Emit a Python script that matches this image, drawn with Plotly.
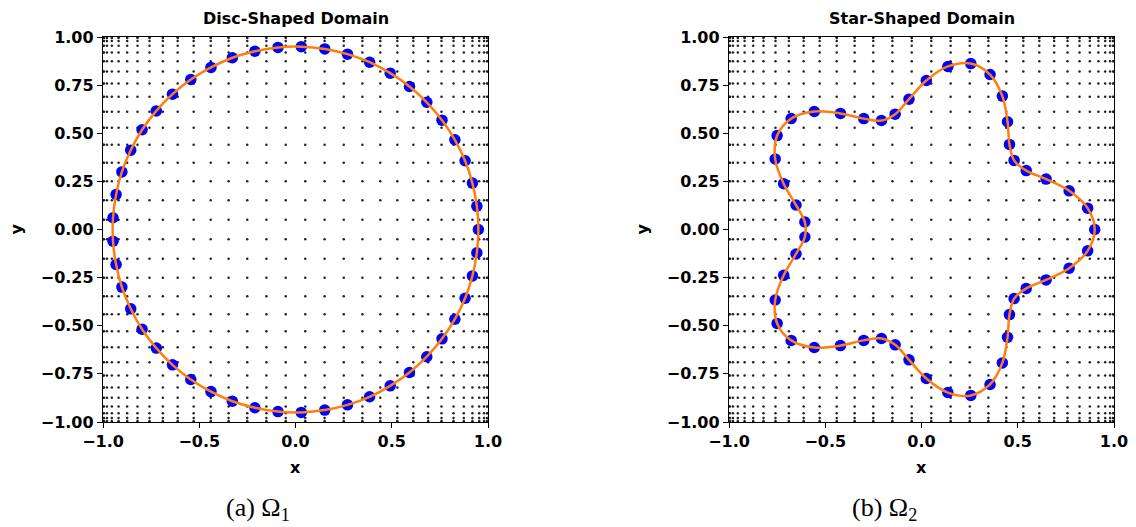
import plotly.graph_objects as go

# ---------------- data ----------------
# collocation grid coordinates (same in x and y, denser near the edges)
GRID = [-1.0, -0.9949, -0.9795, -0.9541, -0.9190, -0.8744, -0.8208, -0.7586,
        -0.6890, -0.6121, -0.5290, -0.4404, -0.3473, -0.2507, -0.1514, -0.0507,
        0.0507, 0.1514, 0.2507, 0.3473, 0.4404, 0.5290, 0.6121, 0.6890,
        0.7586, 0.8208, 0.8744, 0.9190, 0.9541, 0.9795, 0.9949, 1.0]

# boundary points of the disc-shaped domain
DISC_X = [0.950, 0.942, 0.919, 0.881, 0.828, 0.761, 0.682, 0.592, 0.492, 0.385,
          0.270, 0.152, 0.030, -0.091, -0.211, -0.328, -0.439, -0.544, -0.639,
          -0.723, -0.797, -0.856, -0.902, -0.932, -0.948, -0.948, -0.932, -0.902,
          -0.856, -0.797, -0.723, -0.639, -0.544, -0.439, -0.328, -0.211, -0.091,
          0.030, 0.152, 0.270, 0.385, 0.492, 0.592, 0.682, 0.761, 0.828, 0.881,
          0.919, 0.942]
DISC_Y = [0.000, 0.121, 0.241, 0.357, 0.466, 0.568, 0.661, 0.743, 0.812, 0.869,
          0.911, 0.938, 0.950, 0.946, 0.926, 0.892, 0.842, 0.779, 0.703, 0.616,
          0.518, 0.412, 0.299, 0.182, 0.061, -0.061, -0.182, -0.299, -0.412,
          -0.518, -0.616, -0.703, -0.779, -0.842, -0.892, -0.926, -0.946, -0.950,
          -0.938, -0.911, -0.869, -0.812, -0.743, -0.661, -0.568, -0.466, -0.357,
          -0.241, -0.121]

# boundary points of the star-shaped domain
STAR_X = [0.900, 0.863, 0.767, 0.647, 0.544, 0.481, 0.457, 0.447, 0.420, 0.356,
          0.256, 0.137, 0.025, -0.065, -0.137, -0.208, -0.300, -0.421, -0.557,
          -0.677, -0.750, -0.760, -0.716, -0.652, -0.606, -0.606, -0.652, -0.716,
          -0.760, -0.750, -0.677, -0.557, -0.421, -0.300, -0.208, -0.137, -0.065,
          0.025, 0.137, 0.256, 0.356, 0.420, 0.447, 0.457, 0.481, 0.544, 0.647,
          0.767, 0.863]
STAR_Y = [0.000, 0.111, 0.201, 0.262, 0.306, 0.359, 0.442, 0.560, 0.693, 0.805,
          0.862, 0.847, 0.774, 0.677, 0.599, 0.566, 0.576, 0.603, 0.613, 0.576,
          0.488, 0.366, 0.238, 0.127, 0.039, -0.039, -0.127, -0.238, -0.366,
          -0.488, -0.576, -0.613, -0.603, -0.576, -0.566, -0.599, -0.677, -0.774,
          -0.847, -0.862, -0.805, -0.693, -0.560, -0.442, -0.359, -0.306, -0.262,
          -0.201, -0.111]

TITLES = ["Disc-Shaped Domain", "Star-Shaped Domain"]
CAPTIONS = ["(a) Ω<sub>1</sub>", "(b) Ω<sub>2</sub>"]
X_TICKS = [-1.0, -0.5, 0.0, 0.5, 1.0]
Y_TICKS = [-1.0, -0.75, -0.5, -0.25, 0.0, 0.25, 0.5, 0.75, 1.0]

# ---------------- layout helpers ----------------
# the page body adds an 8px margin, so the figure is shrunk by that amount
OFF = 8
W, H = 1136 - OFF, 527 - OFF
def px_x(p):
    return (p - OFF) / W
def px_y(p):
    return 1 - (p - OFF) / H

PLOTS = [(103, 488), (729, 1114)]   # left/right pixel edges of each plot (window px)
TOP, BOTTOM = 37, 422

grid_x = [gx for gy in GRID for gx in GRID]
grid_y = [gy for gy in GRID for gx in GRID]

fig = go.Figure()
shapes_data = [(DISC_X, DISC_Y), (STAR_X, STAR_Y)]
for i, (bx, by) in enumerate(shapes_data):
    xa = "x" if i == 0 else "x2"
    ya = "y" if i == 0 else "y2"
    fig.add_trace(go.Scatter(x=grid_x, y=grid_y, mode="markers",
                             marker=dict(size=2.5, color="#222222", line=dict(width=0)),
                             xaxis=xa, yaxis=ya, showlegend=False, hoverinfo="skip"))
    fig.add_trace(go.Scatter(x=bx, y=by, mode="markers",
                             marker=dict(size=11.5, color="#0000ff", line=dict(width=0)),
                             xaxis=xa, yaxis=ya, showlegend=False))
    fig.add_trace(go.Scatter(x=bx + [bx[0]], y=by + [by[0]], mode="lines",
                             line=dict(color="#ff7f0e", width=2.5, shape="spline", smoothing=1),
                             xaxis=xa, yaxis=ya, showlegend=False))

tickfont = dict(family="DejaVu Sans", size=16, color="black", weight="bold")
axis_common = dict(range=[-1, 1], showline=True, mirror=True, linecolor="black",
                   linewidth=1.3, ticks="outside", ticklen=5, tickwidth=1.3,
                   tickcolor="black", showgrid=False, zeroline=False,
                   tickfont=tickfont, fixedrange=True, automargin=False)

layout = dict(width=W, height=H, margin=dict(l=0, r=0, t=0, b=0, autoexpand=False),
              paper_bgcolor="white", plot_bgcolor="white", showlegend=False)
annotations = []
for i, (l, r) in enumerate(PLOTS):
    sfx = "" if i == 0 else "2"
    layout["xaxis" + sfx] = dict(axis_common, domain=[px_x(l), px_x(r)],
                                 tickvals=X_TICKS, tickformat=".1f",
                                 anchor="y" + sfx)
    layout["yaxis" + sfx] = dict(axis_common, domain=[px_y(BOTTOM), px_y(TOP)],
                                 tickvals=Y_TICKS, tickformat=".2f",
                                 anchor="x" + sfx)
    cx = px_x((l + r) / 2)
    annotations.append(dict(text=TITLES[i], x=cx, y=px_y(19), xref="paper", yref="paper",
                            showarrow=False, xanchor="center", yanchor="middle",
                            font=dict(family="DejaVu Sans", size=16, color="black", weight="bold")))
    annotations.append(dict(text="x", x=cx, y=px_y(467), xref="paper", yref="paper",
                            showarrow=False, xanchor="center", yanchor="middle",
                            font=dict(family="DejaVu Sans", size=16, color="black", weight="bold")))
    annotations.append(dict(text="y", x=px_x(l - 87), y=px_y((TOP + BOTTOM) / 2),
                            xref="paper", yref="paper", textangle=-90,
                            showarrow=False, xanchor="center", yanchor="middle",
                            font=dict(family="DejaVu Sans", size=16, color="black", weight="bold")))
    cap_x = [258, 884][i]
    annotations.append(dict(text=CAPTIONS[i], x=px_x(cap_x), y=px_y(509), xref="paper",
                            yref="paper", showarrow=False, xanchor="center", yanchor="middle",
                            font=dict(family="Liberation Serif", size=26, color="black")))
layout["annotations"] = annotations
fig.update_layout(**layout)
fig.write_html("out.html")
